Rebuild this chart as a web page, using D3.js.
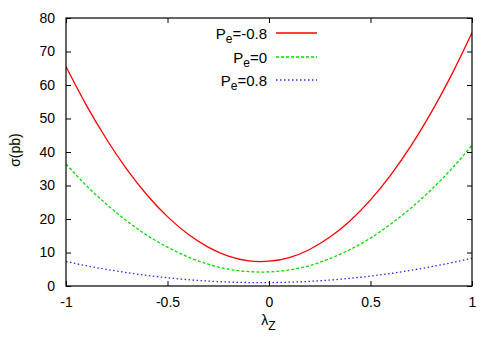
<!DOCTYPE html>
<html>
<head>
<meta charset="utf-8">
<script src="https://cdn.jsdelivr.net/npm/d3@7/dist/d3.min.js"></script>
<style>
  html, body { margin: 0; padding: 0; background: #fff; }
  svg { display: block; font-family: "Liberation Sans", Arial, sans-serif; }
</style>
</head>
<body>
<svg id="chart" width="500" height="350"></svg>
<script>
// ---- data ----
const lambdaZ = [-1, -0.9, -0.8, -0.7, -0.6, -0.5, -0.4, -0.3, -0.2, -0.1, 0,
                 0.1, 0.2, 0.3, 0.4, 0.5, 0.6, 0.7, 0.8, 0.9, 1];
const sigmaPm08 = [65.5, 54.0, 43.8, 34.8, 27.1, 20.7, 15.5, 11.6, 8.9, 7.5, 7.4,
                   8.5, 10.9, 14.6, 19.5, 25.7, 33.2, 41.9, 51.9, 63.1, 75.6];
const sigmaP0 = [36.4, 30.0, 24.4, 19.4, 15.1, 11.6, 8.7, 6.5, 5.0, 4.3, 4.2,
                 4.8, 6.1, 8.2, 10.9, 14.3, 18.5, 23.3, 28.8, 35.0, 42.0];
const sigmaPp08 = [7.3, 6.06, 4.96, 3.99, 3.15, 2.46, 1.90, 1.47, 1.18, 1.03, 1.01,
                   1.13, 1.38, 1.77, 2.30, 2.96, 3.75, 4.69, 5.76, 6.96, 8.3];
const seriesLabels = ["-0.8", "0", "0.8"];
const xTicks = [-1, -0.5, 0, 0.5, 1];
const yTicks = [0, 10, 20, 30, 40, 50, 60, 70, 80];

// ---- layout ----
const svg = d3.select("#chart");
const L = 66, R = 472, T = 18, B = 286;
const x = d3.scaleLinear().domain([-1, 1]).range([L, R]);
const y = d3.scaleLinear().domain([0, 80]).range([B, T]);
const tickLen = 5;

const series = [
  { label: seriesLabels[0], values: sigmaPm08, color: "#ff0000", dash: null },
  { label: seriesLabels[1], values: sigmaP0, color: "#00e000", dash: "3,2" },
  { label: seriesLabels[2], values: sigmaPp08, color: "#2a2aff", dash: "1.5,2.5" }
];

const clipId = "plotclip";
svg.append("defs").append("clipPath").attr("id", clipId)
  .append("rect").attr("x", L).attr("y", T).attr("width", R - L).attr("height", B - T);

// curves
const line = d3.line().x(d => x(d[0])).y(d => y(d[1])).curve(d3.curveNatural);
series.forEach(s => {
  const pts = lambdaZ.map((l, i) => [l, s.values[i]]);
  svg.append("path")
    .attr("d", line(pts))
    .attr("fill", "none")
    .attr("stroke", s.color)
    .attr("stroke-width", 1.3)
    .attr("stroke-dasharray", s.dash)
    .attr("clip-path", `url(#${clipId})`);
});

// axes (ticks inward, mirrored)
const fmt = d => String(d);
const axB = d3.axisBottom(x).tickValues(xTicks).tickSizeInner(-tickLen).tickSizeOuter(0).tickPadding(11).tickFormat(fmt);
const axT = d3.axisTop(x).tickValues(xTicks).tickSizeInner(-tickLen).tickSizeOuter(0).tickFormat("");
const axL = d3.axisLeft(y).tickValues(yTicks).tickSizeInner(-tickLen).tickSizeOuter(0).tickPadding(11).tickFormat(fmt);
const axR = d3.axisRight(y).tickValues(yTicks).tickSizeInner(-tickLen).tickSizeOuter(0).tickFormat("");

function styleAxis(g) {
  g.select(".domain").remove();
  g.selectAll(".tick line").attr("stroke", "#000").attr("stroke-width", 1);
  g.selectAll(".tick text").attr("fill", "#000").attr("font-size", 14)
    .attr("font-family", "'Liberation Sans', Arial, sans-serif");
}
svg.append("g").attr("transform", `translate(0,${B})`).call(axB).call(styleAxis);
svg.append("g").attr("transform", `translate(0,${T})`).call(axT).call(styleAxis);
svg.append("g").attr("transform", `translate(${L},0)`).call(axL).call(styleAxis);
svg.append("g").attr("transform", `translate(${R},0)`).call(axR).call(styleAxis);

// frame
svg.append("rect").attr("x", L).attr("y", T).attr("width", R - L).attr("height", B - T)
  .attr("fill", "none").attr("stroke", "#000").attr("stroke-width", 1.2);

// axis titles
const xt = svg.append("text").attr("x", 268.5).attr("y", 325).attr("text-anchor", "middle")
  .attr("font-size", 14).attr("fill", "#000");
xt.append("tspan").text("λ");
xt.append("tspan").attr("dy", 5).attr("font-size", 12).text("Z");

svg.append("text")
  .attr("transform", `translate(20,150) rotate(-90)`)
  .attr("text-anchor", "middle").attr("font-size", 14).attr("fill", "#000")
  .text("σ(pb)");

// legend
const legY = [33, 57, 80];
series.forEach((s, i) => {
  const ty = legY[i];
  const t = svg.append("text").attr("x", 267).attr("y", ty + 6)
    .attr("text-anchor", "end").attr("font-size", 15).attr("fill", "#000");
  t.append("tspan").text("P");
  t.append("tspan").attr("dy", 4).attr("font-size", 12).text("e");
  t.append("tspan").attr("dy", -4).text("=" + s.label);
  svg.append("line").attr("x1", 276).attr("x2", 317).attr("y1", ty).attr("y2", ty)
    .attr("stroke", s.color).attr("stroke-width", 1.3).attr("stroke-dasharray", s.dash);
});
</script>
</body>
</html>
